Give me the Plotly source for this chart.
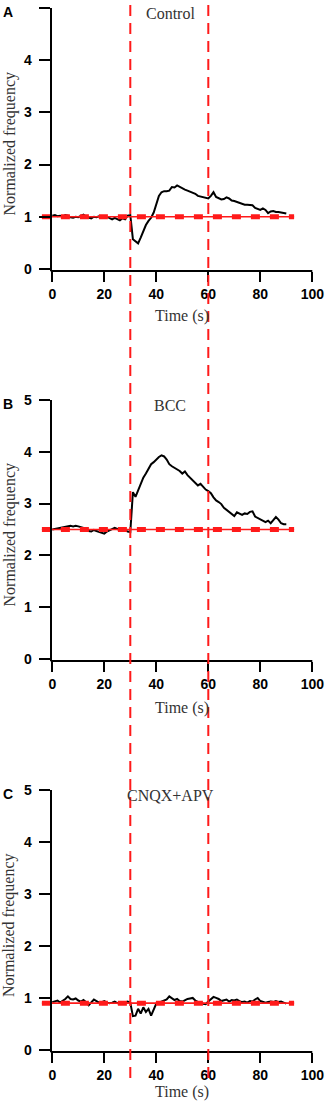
import plotly.graph_objects as go

# ---------------- data ----------------
time_s = list(range(0, 91))

control = [1.02, 1.03, 1.01, 1.02, 1.00, 1.03, 1.02, 0.99, 0.98, 1.00,
           0.99, 1.01, 1.04, 1.00, 0.98, 0.97, 1.00, 0.99, 1.01, 1.00,
           0.98, 1.00, 0.97, 0.95, 0.98, 0.96, 0.93, 0.97, 0.95, 1.02,
           1.03, 0.57, 0.52, 0.49, 0.60, 0.74, 0.84, 0.92, 0.98, 1.08,
           1.25, 1.40, 1.47, 1.49, 1.49, 1.50, 1.57, 1.56, 1.60, 1.57,
           1.54, 1.52, 1.50, 1.48, 1.46, 1.44, 1.40, 1.39, 1.37, 1.36,
           1.35, 1.40, 1.47, 1.38, 1.35, 1.33, 1.34, 1.37, 1.35, 1.31,
           1.30, 1.28, 1.26, 1.24, 1.23, 1.23, 1.23, 1.22, 1.17, 1.15,
           1.13, 1.16, 1.13, 1.07, 1.10, 1.11, 1.09, 1.09, 1.08, 1.07,
           1.06]

bcc = [2.50, 2.51, 2.52, 2.53, 2.54, 2.55, 2.56, 2.57, 2.56, 2.57,
       2.56, 2.55, 2.53, 2.50, 2.47, 2.46, 2.49, 2.47, 2.45, 2.43,
       2.42, 2.46, 2.48, 2.50, 2.53, 2.51, 2.49, 2.51, 2.48, 2.46,
       2.45, 3.22, 3.13, 3.25, 3.40, 3.50, 3.58, 3.66, 3.76, 3.80,
       3.86, 3.90, 3.93, 3.91, 3.85, 3.76, 3.72, 3.69, 3.67, 3.63,
       3.58, 3.62, 3.55, 3.50, 3.45, 3.40, 3.35, 3.38, 3.32, 3.27,
       3.24, 3.20, 3.12, 3.06, 3.03, 2.99, 2.92, 2.88, 2.83, 2.79,
       2.76, 2.83, 2.80, 2.78, 2.81, 2.80, 2.84, 2.85, 2.75, 2.72,
       2.70, 2.67, 2.64, 2.67, 2.62, 2.68, 2.74, 2.69, 2.62, 2.60,
       2.60]

cnqx_apv = [0.92, 0.93, 0.95, 0.91, 0.94, 0.98, 1.03, 0.98, 0.97, 0.99,
            0.95, 0.93, 0.96, 0.92, 0.86, 0.92, 0.97, 0.94, 0.91, 0.92,
            0.94, 0.91, 0.90, 0.91, 0.93, 0.90, 0.91, 0.90, 0.92, 0.93,
            0.91, 0.65, 0.66, 0.79, 0.70, 0.82, 0.73, 0.79, 0.66, 0.78,
            0.89, 0.91, 0.93, 0.95, 0.97, 1.03, 0.99, 0.96, 0.98, 0.94,
            0.93, 0.96, 0.98, 0.99, 1.00, 0.95, 0.92, 0.90, 0.89, 0.88,
            0.93, 0.97, 1.02, 1.00, 0.98, 0.94, 0.96, 0.97, 0.93, 0.96,
            0.95, 0.97, 0.94, 0.92, 0.93, 0.91, 0.94, 0.93, 0.97, 1.00,
            0.94, 0.93, 0.91, 0.92, 0.93, 0.92, 0.94, 0.92, 0.93, 0.91,
            0.89]

baseline_levels = [1.0, 2.5, 0.9]
baseline_x = [-4, 93]
stim_times = [30, 60]
panel_titles = ["Control", "BCC", "CNQX+APV"]
panel_letters = ["A", "B", "C"]
x_ticks = [0, 20, 40, 60, 80, 100]
y_ticks = [0, 1, 2, 3, 4, 5]

series = [control, bcc, cnqx_apv]

# ---------------- layout geometry ----------------
W, H = 325, 1109
ML, MR = 40, 9
PLOT_W = W - ML - MR
PX_PER_UNIT = 2.6
X0_PX = 52.3
XMIN = -(X0_PX - ML) / PX_PER_UNIT
XMAX = XMIN + PLOT_W / PX_PER_UNIT
YAXIS_PX = 50.7
yaxis_pos = (YAXIS_PX - ML) / PLOT_W
axis_corner_x = XMIN + (YAXIS_PX - ML) / PX_PER_UNIT


def px_x(px):
    return (px - ML) / PLOT_W


def px_y(py):
    return 1 - py / H


top_px = [8, 400, 790]
bottom_px = [271, 661, 1052]
time_label_px = [316, 708, 1092]

fig = go.Figure()

axis_font = dict(family="Liberation Sans", size=14, color="black", weight="bold")
serif = dict(family="Liberation Serif", size=16, color="#333333")
RED = "#ff1a1a"

for i in range(3):
    xa = "x" if i == 0 else f"x{i+1}"
    ya = "y" if i == 0 else f"y{i+1}"
    fig.add_trace(go.Scatter(x=time_s, y=series[i], mode="lines",
                             line=dict(color="black", width=2),
                             xaxis=xa, yaxis=ya, showlegend=False))
    fig.add_trace(go.Scatter(x=baseline_x, y=[baseline_levels[i]] * 2, mode="lines",
                             line=dict(color=RED, width=1.6),
                             xaxis=xa, yaxis=ya, showlegend=False))
    fig.add_trace(go.Scatter(x=baseline_x, y=[baseline_levels[i]] * 2, mode="lines",
                             line=dict(color=RED, width=5, dash="9px,10px"),
                             xaxis=xa, yaxis=ya, showlegend=False))

    dom = [px_y(bottom_px[i]), px_y(top_px[i])]
    xkey = "xaxis" if i == 0 else f"xaxis{i+1}"
    ykey = "yaxis" if i == 0 else f"yaxis{i+1}"
    fig.update_layout({
        xkey: dict(domain=[0, 1], range=[XMIN, XMAX], anchor=ya,
                   tickvals=x_ticks, ticks="outside", ticklen=10, tickwidth=2,
                   tickcolor="black", showline=False, showgrid=False,
                   zeroline=False, tickfont=axis_font, automargin=False),
        ykey: dict(domain=dom, range=[-0.04, 5], anchor="free", position=yaxis_pos,
                   tickvals=y_ticks, ticks="outside", ticklen=11, tickwidth=2,
                   tickcolor="black", showline=True, linecolor="black", linewidth=2,
                   showgrid=False, zeroline=False, tickfont=axis_font,
                   ticklabelstandoff=4, automargin=False),
    })
    # x axis line from the corner to 100
    fig.add_shape(type="line", xref=xa, yref=f"{ya} domain",
                  x0=axis_corner_x, x1=100, y0=0, y1=0,
                  line=dict(color="black", width=2))

    axis_mid = (top_px[i] + bottom_px[i]) / 2 + 5
    fig.add_annotation(text="Normalized frequency", textangle=-90,
                       x=px_x(9), y=px_y(axis_mid), xref="paper", yref="paper",
                       showarrow=False, font=serif, xanchor="center", yanchor="middle")
    fig.add_annotation(text="Time (s)", x=px_x(182), y=px_y(time_label_px[i]),
                       xref="paper", yref="paper", showarrow=False, font=serif,
                       xanchor="center", yanchor="middle")
    fig.add_annotation(text=panel_titles[i], x=px_x(170),
                       y=px_y(top_px[i] + 5), xref="paper", yref="paper",
                       showarrow=False, font=serif, xanchor="center", yanchor="middle")
    fig.add_annotation(text=panel_letters[i], x=px_x(8),
                       y=px_y(top_px[i] + 4), xref="paper", yref="paper",
                       showarrow=False,
                       font=dict(family="Liberation Sans", size=14, color="black", weight="bold"),
                       xanchor="center", yanchor="middle")

for t in stim_times:
    fig.add_shape(type="line", xref="x", yref="paper", x0=t, x1=t,
                  y0=px_y(1078), y1=1, layer="above",
                  line=dict(color=RED, width=2, dash="11px,7px"))

fig.update_layout(width=W, height=H, margin=dict(l=ML, r=MR, t=0, b=0, pad=0),
                  paper_bgcolor="white", plot_bgcolor="white", showlegend=False)

fig.write_html("out.html", config={"displayModeBar": False},
               post_script="document.body.style.margin='0px';document.body.style.overflow='hidden';")
